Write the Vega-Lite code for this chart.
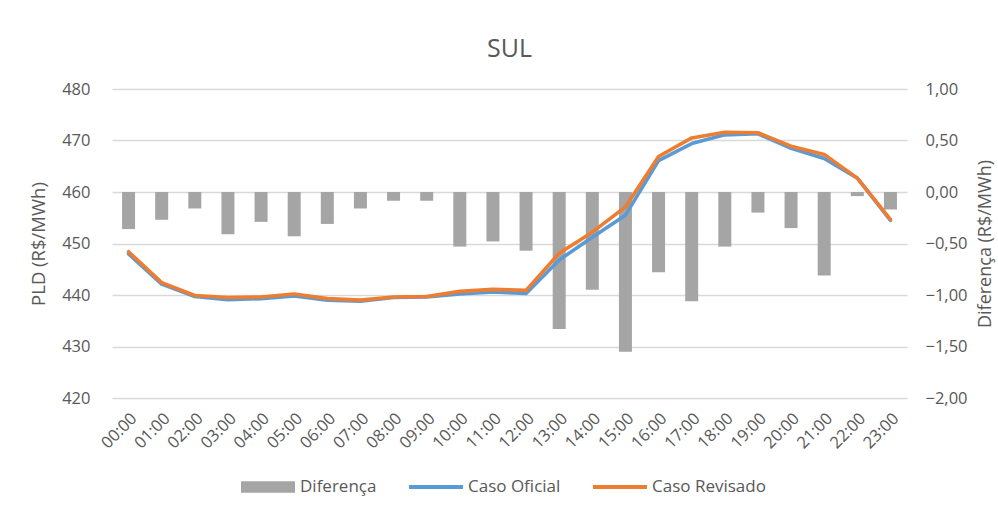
{
  "$schema": "https://vega.github.io/schema/vega-lite/v6.json",
  "width": 795,
  "height": 309,
  "autosize": {"type": "none"},
  "padding": {"left": 112, "top": 89, "right": 91, "bottom": 123},
  "background": "white",
  "title": {"text": "SUL", "fontSize": 25, "font": "Open Sans", "fontWeight": "normal", "color": "#595959", "anchor": "middle", "offset": 19},
  "config": {
    "font": "Open Sans",
    "view": {"stroke": null},
    "axis": {"labelColor": "#595959", "titleColor": "#595959", "labelFontSize": 16.5, "titleFontSize": 18.5, "titleFontWeight": "normal", "domain": false, "ticks": false, "gridColor": "#D9D9D9", "gridWidth": 1.3, "labelOverlap": false},
    "legend": {"labelColor": "#595959", "labelFontSize": 17}
  },
  "data": {
    "values": [
      {"hora": "00:00", "dif": -0.36, "oficial": 448.0, "revisado": 448.4},
      {"hora": "01:00", "dif": -0.27, "oficial": 442.1, "revisado": 442.4},
      {"hora": "02:00", "dif": -0.16, "oficial": 439.7, "revisado": 439.9},
      {"hora": "03:00", "dif": -0.41, "oficial": 439.1, "revisado": 439.5},
      {"hora": "04:00", "dif": -0.29, "oficial": 439.3, "revisado": 439.6},
      {"hora": "05:00", "dif": -0.43, "oficial": 439.8, "revisado": 440.2},
      {"hora": "06:00", "dif": -0.31, "oficial": 439.0, "revisado": 439.3},
      {"hora": "07:00", "dif": -0.16, "oficial": 438.8, "revisado": 439.0},
      {"hora": "08:00", "dif": -0.085, "oficial": 439.5, "revisado": 439.6},
      {"hora": "09:00", "dif": -0.085, "oficial": 439.6, "revisado": 439.7},
      {"hora": "10:00", "dif": -0.53, "oficial": 440.2, "revisado": 440.7},
      {"hora": "11:00", "dif": -0.48, "oficial": 440.6, "revisado": 441.1},
      {"hora": "12:00", "dif": -0.57, "oficial": 440.3, "revisado": 440.9},
      {"hora": "13:00", "dif": -1.33, "oficial": 446.8, "revisado": 448.1},
      {"hora": "14:00", "dif": -0.95, "oficial": 451.2, "revisado": 452.2},
      {"hora": "15:00", "dif": -1.55, "oficial": 455.5, "revisado": 457.1},
      {"hora": "16:00", "dif": -0.78, "oficial": 466.1, "revisado": 466.9},
      {"hora": "17:00", "dif": -1.06, "oficial": 469.4, "revisado": 470.5},
      {"hora": "18:00", "dif": -0.53, "oficial": 471.1, "revisado": 471.6},
      {"hora": "19:00", "dif": -0.20, "oficial": 471.3, "revisado": 471.5},
      {"hora": "20:00", "dif": -0.35, "oficial": 468.5, "revisado": 468.9},
      {"hora": "21:00", "dif": -0.81, "oficial": 466.5, "revisado": 467.3},
      {"hora": "22:00", "dif": -0.04, "oficial": 462.7, "revisado": 462.7},
      {"hora": "23:00", "dif": -0.17, "oficial": 454.5, "revisado": 454.7}
    ]
  },
  "encoding": {
    "x": {"field": "hora", "type": "ordinal", "sort": null,
      "axis": {"title": null, "labelAngle": -45, "labelPadding": 12, "grid": false}}
  },
  "layer": [
    {
      "mark": {"type": "bar", "size": 13},
      "transform": [{"calculate": "'Diferença'", "as": "serie"}],
      "encoding": {
        "y": {"field": "dif", "type": "quantitative", "scale": {"domain": [-2, 1], "nice": false},
          "axis": {"orient": "right", "title": "Diferença (R$/MWh)", "titleAngle": 270, "titleBaseline": "top", "titleFontSize": 18, "values": [-2, -1.5, -1, -0.5, 0, 0.5, 1], "format": ".2f", "labelExpr": "replace(datum.label, '.', ',')", "grid": false, "labelPadding": 18, "titlePadding": 9}},
        "color": {"field": "serie", "type": "nominal",
          "scale": {"domain": ["Diferença", "Caso Oficial", "Caso Revisado"], "range": ["#A5A5A5", "#5B9BD5", "#ED7D31"]},
          "legend": {"orient": "none", "legendX": 129, "legendY": 371, "padding": 0, "direction": "horizontal", "title": null, "columnPadding": 32, "labelOffset": 5, "symbolSize": 2916,
            "symbolType": "M-1,-0.215L1,-0.215L1,0.215L-1,0.215Z", "symbolStrokeWidth": 0,
            "encode": {"symbols": {"update": {"shape": {"signal": "datum.value === 'Diferença' ? 'M-1,-0.215L1,-0.215L1,0.215L-1,0.215Z' : 'M-1,-0.074L1,-0.074L1,0.074L-1,0.074Z'"}}}}}}
      }
    },
    {
      "transform": [{"fold": ["oficial", "revisado"], "as": ["k", "v"]},
                    {"calculate": "datum.k === 'oficial' ? 'Caso Oficial' : 'Caso Revisado'", "as": "serie"}],
      "mark": {"type": "line", "strokeWidth": 3.6, "strokeJoin": "round", "strokeCap": "round"},
      "encoding": {
        "y": {"field": "v", "type": "quantitative", "scale": {"domain": [420, 480], "nice": false},
          "axis": {"orient": "left", "title": "PLD (R$/MWh)", "values": [420, 430, 440, 450, 460, 470, 480], "grid": true, "labelPadding": 22, "titlePadding": 13}},
        "color": {"field": "serie", "type": "nominal"},
        "detail": {"field": "serie"},
        "order": {"field": "k"}
      }
    }
  ],
  "resolve": {"scale": {"y": "independent"}}
}
